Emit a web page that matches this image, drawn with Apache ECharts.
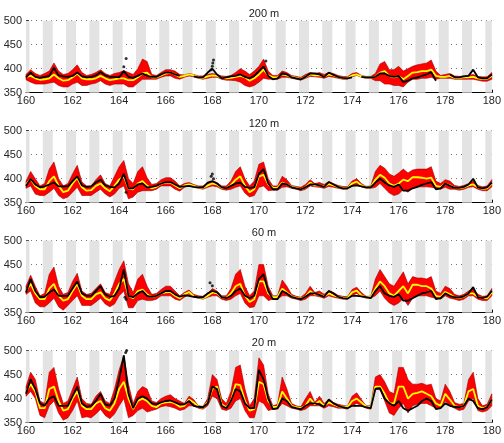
<!DOCTYPE html>
<html><head><meta charset="utf-8">
<script src="https://cdn.jsdelivr.net/npm/echarts@6/dist/echarts.min.js"></script>
<style>html,body{margin:0;padding:0;background:#fff}#c{width:504px;height:443px}</style>
</head><body><div id="c"></div>
<script>
// sample times: every 0.2 day from 160 to 180
const T = [];
for (let i = 0; i <= 100; i++) T.push(+(160 + 0.2 * i).toFixed(1));
const xTicks = [160,162,164,166,168,170,172,174,176,178,180];
const yTicks = [350,400,450,500];
const nightStart = [160,160.72,161.72,162.72,163.72,164.72,165.72,166.72,167.72,168.72,169.72,170.72,171.72,172.72,173.72,174.72,175.72,176.72,177.72,178.72,179.72];
const nightEnd   = [160.15,161.15,162.15,163.15,164.15,165.15,166.15,167.15,168.15,169.15,170.15,171.15,172.15,173.15,174.15,175.15,176.15,177.15,178.15,179.15,180];
const titles = ['200 m','120 m','60 m','20 m'];

// 200 m
const U1 = [388,398,390,386,390, 395,412,395,388,390, 398,408,392,386,388, 392,398,390,386,390, 392,396,392,388,400, 420,415,388,386,392, 398,398,395,388,387, 390,388,385,385,388, 390,388,385,384,386, 392,400,395,388,395, 405,420,395,386,386, 395,392,386,384,382, 388,392,390,392,388, 392,390,386,384,383, 390,392,386,384,384, 390,410,415,398,398, 405,395,400,405,408, 410,412,418,395,386, 388,390,385,384,385, 386,388,384,383,383, 392];
const L1 = [377,372,368,368,368, 370,372,365,362,362, 368,372,365,365,368, 370,375,368,365,368, 368,368,362,362,370, 378,378,378,378,382, 385,385,380,378,382, 385,383,380,378,380, 382,382,378,376,376, 375,372,365,362,365, 372,380,378,378,378, 382,382,380,378,376, 380,384,383,382,380, 384,382,380,378,378, 383,386,382,380,380, 375,375,368,368,365, 365,362,372,378,378, 380,380,382,378,380, 380,380,378,378,378, 378,378,376,374,374, 378];
const M1 = [383,385,380,377,378, 380,388,380,375,376, 382,390,380,378,378, 380,385,380,376,378, 380,380,376,376,382, 390,392,382,382,386, 390,392,388,383,385, 388,386,382,381,384, 386,385,381,380,381, 383,385,382,375,380, 388,398,386,382,382, 388,386,383,381,379, 383,388,386,386,384, 388,386,383,381,380, 386,388,384,382,382, 383,392,395,385,382, 385,378,385,392,393, 395,395,398,385,383, 383,385,381,381,382, 382,383,380,379,379, 385];
const O1 = [382,392,383,381,383, 385,402,386,384,383, 385,392,384,382,383, 386,393,386,383,383, 382,395,383,381,385, 390,385,383,383,388, 392,392,388,385,null, null,384,382,382,392, 400,388,380,382,384, 385,388,383,380,385, 395,405,385,378,380, 390,388,382,380,378, 383,390,390,388,383, 392,387,383,381,380, 382,null,383,382,382, 383,390,390,385,383, 385,372,375,380,382, 385,388,393,375,null, null,388,382,382,384, 385,398,382,380,380, 388];
const X1 = [[164.2,404],[164.3,421],[167.95,398],[168.0,405],[168.02,412],[168.05,418],[170.3,416]];

// 120 m
const U2 = [395,415,400,385,390, 420,435,400,385,390, 410,428,393,385,385, 398,408,390,385,405, 425,438,400,390,415, 425,402,388,390,398, 402,402,395,385,390, 392,388,385,385,390, 395,392,385,385,395, 415,425,400,385,395, 430,435,400,385,385, 405,398,386,384,382, 388,398,390,392,388, 394,390,386,384,383, 395,400,390,384,385, 415,428,422,410,405, 412,420,412,418,420, 420,420,425,395,390, 398,395,386,384,386, 390,395,386,383,385, 398];
const L2 = [380,385,368,365,365, 372,380,365,358,362, 372,382,365,365,365, 372,378,368,362,368, 380,385,358,362,372, 375,375,375,378,385, 385,385,378,374,382, 385,382,380,378,382, 385,383,378,376,378, 382,385,370,362,365, 382,385,375,376,376, 382,383,380,378,375, 378,385,383,382,380, 384,382,380,378,378, 385,388,383,380,380, 382,390,380,370,365, 368,378,372,380,383, 383,383,382,380,378, 382,378,378,376,378, 382,383,378,375,375, 383];
const M2 = [388,400,385,378,378, 395,405,385,372,375, 390,402,382,375,376, 385,390,380,374,385, 398,405,380,378,390, 395,385,380,383,390, 392,392,386,380,386, 388,385,382,381,386, 390,388,381,380,387, 398,405,385,372,378, 405,408,388,381,381, 392,388,383,381,378, 382,392,386,386,384, 389,386,383,381,380, 390,394,386,382,382, 398,408,402,390,385, 390,398,395,403,403, 402,400,402,385,383, 390,386,381,380,382, 386,388,382,379,380, 390];
const O2 = [385,400,388,382,384, 388,392,384,384,384, 395,405,386,383,384, 392,398,386,383,382, 390,410,380,380,388, 390,382,383,385,390, 393,393,388,383,384, 385,383,382,382,392, 395,390,382,380,385, 390,392,383,381,382, 410,420,390,378,378, 390,388,382,380,378, 382,388,388,386,383, 393,388,383,380,380, 385,386,384,382,382, 392,400,392,386,383, 388,375,375,380,383, 387,390,393,378,380, 390,385,381,381,383, 388,400,382,380,382, 392];
const X2 = [[164.3,372],[167.95,405],[168.0,410],[168.05,400]];

// 60 m
const U3 = [405,428,405,385,390, 430,445,405,388,392, 415,432,395,388,390, 400,410,392,388,415, 440,458,410,392,420, 430,405,388,390,398, 405,405,395,385,392, 397,388,385,384,390, 400,395,385,385,400, 430,440,405,385,395, 450,450,405,385,385, 418,405,388,384,382, 390,405,392,395,388, 396,392,386,384,383, 398,403,392,384,384, 420,440,425,410,405, 420,435,410,425,422, 422,420,425,395,390, 405,400,388,385,388, 395,400,388,384,385, 400];
const L3 = [388,395,370,362,362, 370,380,362,355,365, 375,385,365,365,365, 372,380,368,362,368, 385,395,360,360,375, 378,375,375,378,385, 385,385,378,375,382, 388,382,380,378,382, 385,385,378,375,378, 385,390,370,360,362, 385,385,375,378,378, 385,385,380,378,375, 378,385,385,383,380, 385,382,380,378,378, 385,390,383,380,380, 385,395,380,370,365, 370,380,365,380,385, 385,385,382,380,378, 385,380,378,375,378, 385,385,378,375,375, 385];
const M3 = [395,410,390,378,378, 400,410,385,375,378, 395,410,385,378,378, 388,392,380,375,390, 410,420,385,380,395, 398,388,382,385,390, 392,393,385,380,388, 393,384,382,380,385, 392,390,382,380,390, 405,410,385,372,378, 415,415,390,382,382, 400,392,384,381,379, 383,395,388,388,384, 390,386,383,381,380, 392,396,386,382,382, 400,415,405,390,385, 395,405,390,408,408, 405,405,400,385,383, 393,388,382,380,383, 390,390,383,380,380, 392];
const O3 = [392,420,395,382,383, 392,398,385,385,385, 400,415,390,385,385, 395,405,388,383,385, 400,440,385,382,390, 395,385,383,385,390, 395,395,388,383,386, 385,383,382,382,390, 395,392,382,380,385, 395,400,385,380,385, 420,430,395,378,378, 395,390,383,380,378, 383,390,390,387,383, 395,390,383,380,379, 385,385,384,382,380, 395,405,390,385,383, 388,375,375,380,385, 390,392,395,378,380, 390,385,382,381,384, 390,403,382,380,383, 395];
const X3 = [[167.9,412],[168.0,406],[164.3,378],[164.25,382]];

// 20 m
const U4 = [425,455,440,395,390, 455,465,420,390,395, 420,445,400,390,388, 405,415,395,390,420, 460,490,430,390,415, 425,420,395,392,400, 405,408,400,395,390, 405,398,385,384,400, 450,440,400,390,415, 465,470,420,385,400, 485,470,410,385,388, 445,420,390,385,383, 400,415,392,405,390, 398,392,388,386,384, 405,412,398,385,385, 445,450,435,415,410, 465,465,440,430,430, 432,428,430,400,395, 430,415,392,388,390, 440,455,400,385,388, 410];
const L4 = [405,415,400,365,360, 385,395,370,355,360, 375,395,360,362,360, 368,378,365,358,368, 385,400,360,365,375, 380,372,375,378,383, 385,383,380,375,378, 385,385,380,378,385, 405,400,378,375,380, 395,400,375,360,360, 395,390,375,378,378, 390,385,380,378,375, 378,385,385,385,380, 385,383,380,380,378, 385,390,385,380,378, 420,418,395,370,365, 380,390,370,385,388, 390,390,385,380,380, 395,385,380,375,378, 395,400,375,372,375, 385];
const M4 = [415,430,415,380,380, 420,425,395,375,378, 400,415,385,378,378, 390,395,380,375,390, 420,435,400,378,395, 400,395,385,382,390, 392,393,390,383,385, 398,392,383,381,392, 420,425,388,382,395, 430,428,395,375,378, 435,430,395,382,383, 415,400,385,382,380, 385,400,388,395,385, 392,388,384,383,382, 395,400,392,383,382, 425,425,410,390,390, 425,425,400,410,412, 415,410,405,390,385, 410,398,385,382,385, 415,420,385,380,382, 398];
const O4 = [410,440,420,390,385, 400,405,385,385,385, 405,425,390,383,385, 395,410,388,385,400, 440,490,410,380,400, 405,400,390,388,392, 395,396,392,388,388, 395,385,383,382,390, 425,420,385,380,395, 420,415,390,380,380, 460,440,400,378,380, 400,395,383,380,378, 385,390,390,388,383, 398,390,385,382,380, 385,385,385,382,380, 420,422,400,390,385, 395,380,375,380,385, 395,400,395,378,380, 390,385,383,382,385, 400,395,380,378,382, 398];
const X4 = [[164.28,496],[164.32,500]];

const panels = [[U1,L1,M1,O1,X1],[U2,L2,M2,O2,X2],[U3,L3,M3,O3,X3],[U4,L4,M4,O4,X4]];
const tops = [20.7,130.7,240.6,350.6];
const titleTops = [3,113,222,332];
const FONT = 'Liberation Sans, Arial, sans-serif';

const pairs = arr => arr.map((v,i) => [T[i], v]);
const grid=[], xAxis=[], yAxis=[], series=[], title=[];
const nights = nightStart.map((s,i) => [{xAxis:s},{xAxis:nightEnd[i]}]);

panels.forEach((p,k) => {
  const [U,L,M,O,X] = p;
  title.push({text:titles[k], left:259, top:titleTops[k], textAlign:'center',
    textStyle:{fontSize:11, fontWeight:'normal', color:'#222', fontFamily:FONT}});
  grid.push({left:26, width:466, top:tops[k], height:72});
  xAxis.push({type:'value', gridIndex:k, min:160, max:180, interval:2,
    axisLine:{show:true, onZero:false, lineStyle:{color:'#000', width:1}},
    axisTick:{show:true, inside:true, length:3, lineStyle:{color:'#000'}},
    axisLabel:{fontSize:11, color:'#262626', margin:3, fontFamily:FONT,
      formatter: v => xTicks.includes(v) ? String(v) : ''},
    splitLine:{show:false}});
  yAxis.push({type:'value', gridIndex:k, min:350, max:500, interval:50,
    axisLine:{show:true, onZero:false, lineStyle:{color:'#000', width:1}},
    axisTick:{show:true, inside:true, length:3, lineStyle:{color:'#000'}},
    axisLabel:{fontSize:11, color:'#262626', margin:4, fontFamily:FONT,
      formatter: v => yTicks.includes(v) ? String(v) : ''},
    splitLine:{show:true, lineStyle:{color:'#777', type:[1,4], width:1}}});
  // night shading (empty carrier series)
  series.push({type:'line', xAxisIndex:k, yAxisIndex:k, data:[], silent:true, z:1,
    markArea:{silent:true, itemStyle:{color:'#e3e3e3'}, data:nights}});
  // red envelope as one polygon (upper path then lower path reversed)
  series.push({type:'custom', xAxisIndex:k, yAxisIndex:k, z:2, silent:true,
    data: U.map((v,i) => [T[i], L[i], v]),
    encode:{x:0, y:[1,2]},
    renderItem: (params, api) => {
      if (params.dataIndex !== 0) return null;
      const pts = [];
      for (let i = 0; i < U.length; i++) pts.push(api.coord([T[i], U[i]]));
      for (let i = L.length - 1; i >= 0; i--) pts.push(api.coord([T[i], L[i]]));
      return {type:'polygon', shape:{points:pts},
        style:{fill:'#ff0000', stroke:'#9a0000', lineWidth:0.6}};
    }});
  series.push({type:'line', xAxisIndex:k, yAxisIndex:k, data:pairs(M), symbol:'none',
    lineStyle:{width:1.8, color:'#ffff00'}, z:3});
  series.push({type:'line', xAxisIndex:k, yAxisIndex:k, data:pairs(O), symbol:'none',
    connectNulls:false, lineStyle:{width:1.8, color:'#000'}, z:4});
  series.push({type:'scatter', xAxisIndex:k, yAxisIndex:k, data:X, symbolSize:3,
    itemStyle:{color:'#000'}, z:5});
});

const chart = echarts.init(document.getElementById('c'), null, {renderer:'canvas'});
chart.setOption({animation:false, backgroundColor:'#fff', title, grid, xAxis, yAxis, series});
</script>
</body></html>
